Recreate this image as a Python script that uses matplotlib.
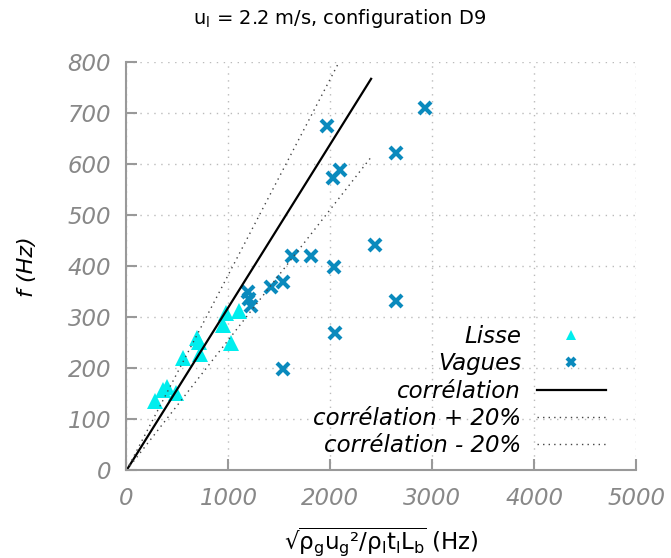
import matplotlib
matplotlib.use("Agg")
from matplotlib import pyplot as plt

plt.rcParams['mathtext.default'] = 'regular'

# Lisse (triangles)
lisse_x = [280, 361, 395, 486, 558, 695, 715, 722, 951, 977, 1024, 1108]
lisse_y = [136, 157, 164, 152, 221, 259, 252, 228, 285, 308, 249, 313]

# Vagues (croix)
vagues_x = [2925, 1967, 2644, 2026, 2097, 2438, 1623, 1812, 2038, 1540, 1416,
            1190, 1200, 1225, 2644, 2041, 1534]
vagues_y = [710, 676, 623, 573, 589, 442, 420, 420, 399, 370, 360,
            349, 337, 323, 333, 270, 199]

# corrélation f = 0.32 * x
corr_x = [0, 2400]
corr_y = [0, 768]
corr_plus = [v * 1.2 for v in corr_y]
corr_moins = [v * 0.8 for v in corr_y]

fig = plt.figure(figsize=(6.71, 5.58), dpi=100)
ax = fig.add_axes([0.1885, 0.157, 0.7595, 0.731])

gris = '#999999'
ax.plot(lisse_x, lisse_y, linestyle='none', marker='^', color='#00eeee',
        markersize=11, markeredgewidth=0, label='Lisse')
ax.plot(vagues_x, vagues_y, linestyle='none', marker='x', color='#0a8abd',
        markersize=9, markeredgewidth=3, label='Vagues')
ax.plot(corr_x, corr_y, color='black', lw=1.6, label='corrélation')
ax.plot(corr_x, corr_plus, color='#444444', lw=1, linestyle=(0, (1, 3)),
        label='corrélation + 20%')
ax.plot(corr_x, corr_moins, color='#444444', lw=1, linestyle=(0, (1, 3)),
        label='corrélation - 20%')

ax.set_xlim(0, 5000)
ax.set_ylim(0, 800)
ax.set_xticks(range(0, 5001, 1000))
ax.set_yticks(range(0, 801, 100))
ax.grid(True, color='#bbbbbb', linestyle=(0, (1, 4)), lw=1)

for s in ['top', 'right']:
    ax.spines[s].set_visible(False)
for s in ['left', 'bottom']:
    ax.spines[s].set_color(gris)
    ax.spines[s].set_linewidth(1.5)

ax.tick_params(direction='in', length=8, width=1.5, color=gris,
               labelcolor='#888888', labelsize=16.5)
ax.tick_params(axis='x', pad=12)
ax.tick_params(axis='y', pad=11)
for lab in ax.get_xticklabels() + ax.get_yticklabels():
    lab.set_fontstyle('italic')

ax.set_ylabel('f (Hz)', fontsize=16, fontstyle='italic', labelpad=22)
ax.set_xlabel(r'√$\overline{\rho_g u_g²/\rho_l t_l L_b}$ (Hz)', fontsize=16.5, labelpad=11)
fig.text(0.507, 1 - 18 / 558, r'u$_l$ = 2.2 m/s, configuration D9',
         ha='center', va='center', fontsize=14)

leg = ax.legend(loc='lower right', bbox_to_anchor=(0.963, 0.004), frameon=False,
                markerfirst=False, prop={'style': 'italic', 'size': 16.5},
                handlelength=3.0, handletextpad=0.7, labelspacing=0.19,
                borderpad=0, markerscale=0.7)

fig.savefig('out.png', dpi=100)
